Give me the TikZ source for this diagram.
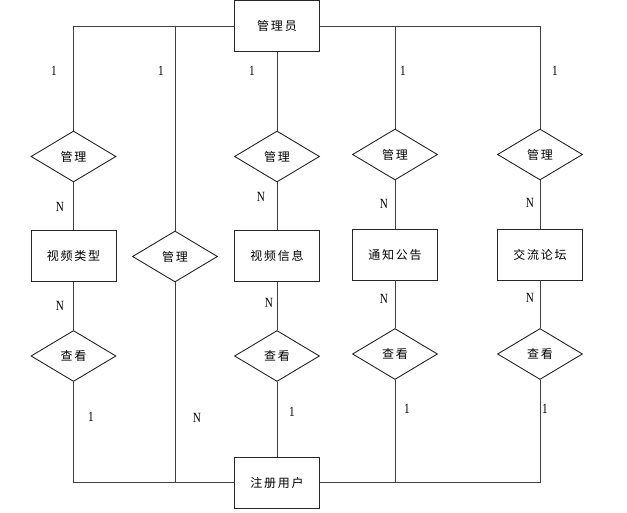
\documentclass[tikz,border=0pt]{standalone}
\usepackage{fontspec}
\usetikzlibrary{shapes.geometric}
\newfontfamily\cjk[LetterSpace=15]{Noto Sans CJK SC}
\newfontfamily\lbl[FakeStretch=0.8]{Liberation Serif}
\tikzset{
  ent/.style={draw=black!85, line width=0.9pt, fill=white, minimum width=85pt, minimum height=51pt, inner sep=0pt, font=\cjk\fontsize{12}{14}\selectfont},
  rel/.style={draw=black!85, line width=0.9pt, fill=white, diamond, minimum width=85pt, minimum height=51pt, inner sep=0pt, font=\cjk\fontsize{12}{14}\selectfont},
  conn/.style={draw=black!75, line width=0.9pt},
  card/.style={font=\lbl\fontsize{14}{15}\selectfont, inner sep=0pt, text=black}
}
\begin{document}
\begin{tikzpicture}[x=1pt,y=-1pt]
\useasboundingbox (0,0) rectangle (627,513);
% entities
\node[ent] (admin) at (277,26) {管理员};
\node[ent] (user) at (277,482.5) {注册用户};
\node[ent] (vtype) at (73.5,256) {视频类型};
\node[ent] (vinfo) at (277,256) {视频信息};
\node[ent] (notice) at (395,254.5) {通知公告};
\node[ent] (forum) at (540,254.5) {交流论坛};
% relations
\node[rel] (m1) at (73.5,156.5) {管理};
\node[rel] (m2) at (175,256.5) {管理};
\node[rel] (m3) at (277,156.5) {管理};
\node[rel] (m4) at (395,154.5) {管理};
\node[rel] (m5) at (540,154.5) {管理};
\node[rel] (v1) at (73.5,356) {查看};
\node[rel] (v2) at (277,356) {查看};
\node[rel] (v3) at (395,354) {查看};
\node[rel] (v4) at (540,354) {查看};
% connectors
\draw[conn] (admin.west) -| (m1.north);
\draw[conn] (admin.west) -| (m2.north);
\draw[conn] (admin.south) -- (m3.north);
\draw[conn] (admin.east) -| (m4.north);
\draw[conn] (admin.east) -| (m5.north);
\draw[conn] (m1.south) -- (vtype.north);
\draw[conn] (vtype.south) -- (v1.north);
\draw[conn] (v1.south) |- (user.west);
\draw[conn] (m2.south) |- (user.west);
\draw[conn] (m3.south) -- (vinfo.north);
\draw[conn] (vinfo.south) -- (v2.north);
\draw[conn] (v2.south) -- (user.north);
\draw[conn] (m4.south) -- (notice.north);
\draw[conn] (notice.south) -- (v3.north);
\draw[conn] (v3.south) |- (user.east);
\draw[conn] (m5.south) -- (forum.north);
\draw[conn] (forum.south) -- (v4.north);
\draw[conn] (v4.south) |- (user.east);
% cardinalities
\node[card] (c1) at (54,71) {1};
\node[card] (c2) at (161,71) {1};
\node[card] (c3) at (252,71) {1};
\node[card] (c4) at (403,71) {1};
\node[card] (c5) at (555,71) {1};
\node[card] (n1) at (60,207) {N};
\node[card] (n2) at (261,197) {N};
\node[card] (n3) at (384,204) {N};
\node[card] (n4) at (530,203) {N};
\node[card] (n5) at (60,306) {N};
\node[card] (n6) at (269,303) {N};
\node[card] (n7) at (384,299) {N};
\node[card] (n8) at (530,298) {N};
\node[card] (d1) at (91,417) {1};
\node[card] (n9) at (197,418) {N};
\node[card] (d2) at (292,412) {1};
\node[card] (d3) at (407,409) {1};
\node[card] (d4) at (545,409) {1};
\end{tikzpicture}
\end{document}
